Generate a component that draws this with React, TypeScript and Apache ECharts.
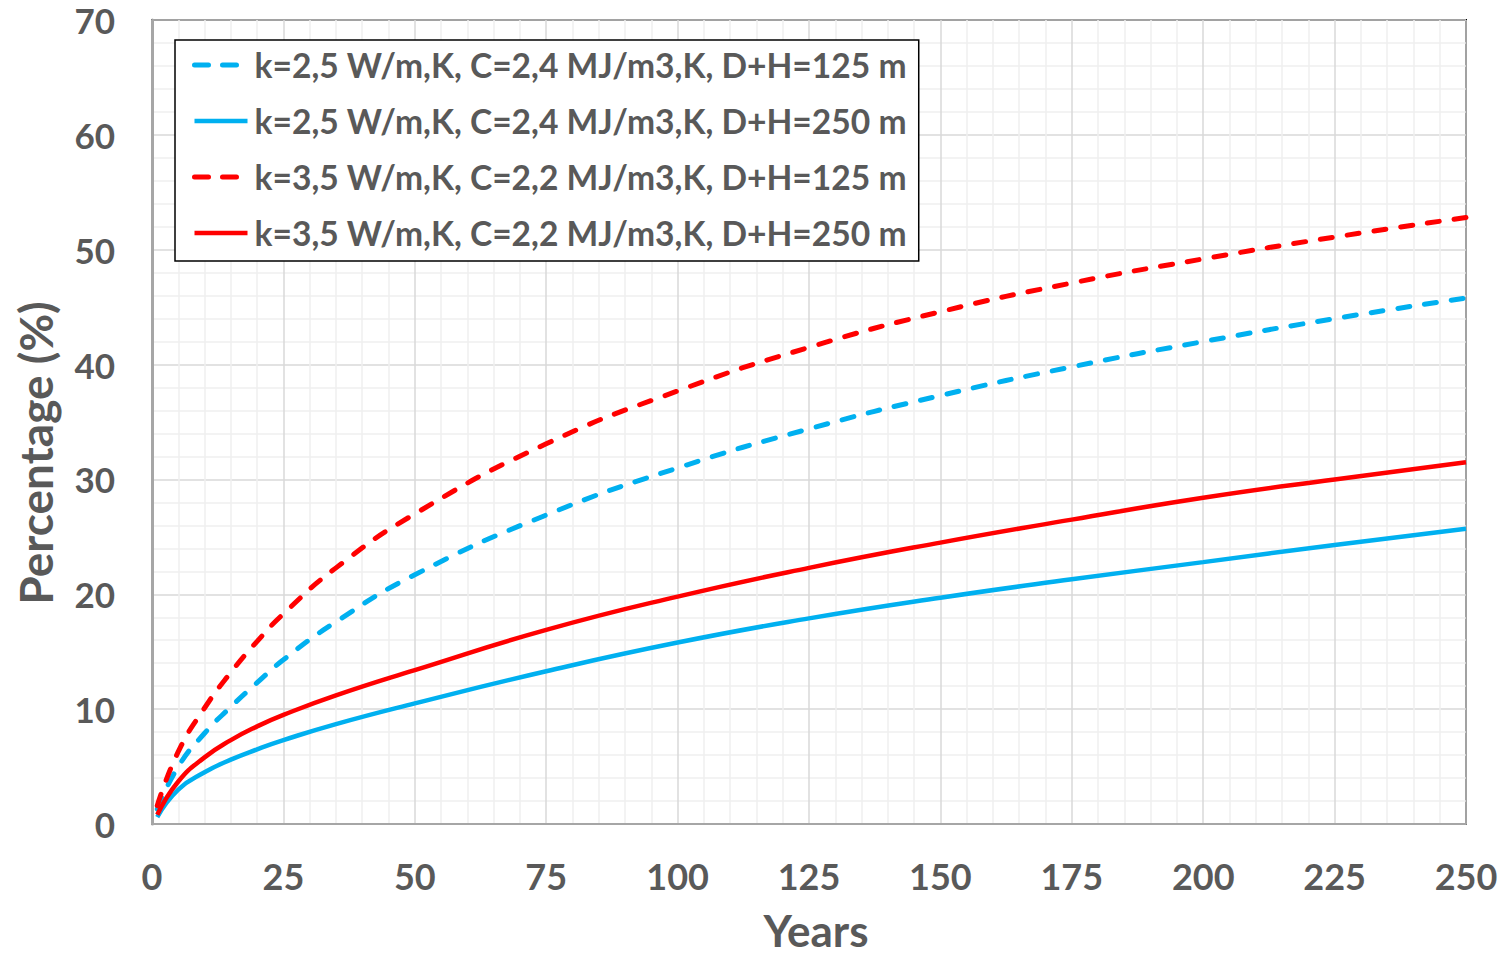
import React, { useEffect, useRef } from "react";
import * as echarts from "echarts";

const years = [1, 5, 10, 15, 20, 25, 35, 50, 75, 100, 125, 150, 175, 200, 225, 250];
const blueDashed = [1.3, 5.0, 7.9, 10.2, 12.3, 14.3, 17.6, 21.7, 26.9, 31.0, 34.4, 37.3, 39.8, 42.0, 44.0, 45.8];
const blueSolid = [0.6, 3.0, 4.5, 5.6, 6.5, 7.3, 8.7, 10.5, 13.3, 15.8, 17.9, 19.7, 21.3, 22.8, 24.3, 25.7];
const redDashed = [1.6, 6.3, 10.1, 13.2, 15.9, 18.3, 22.3, 27.0, 33.1, 37.7, 41.5, 44.6, 47.1, 49.2, 51.1, 52.8];
const redSolid = [0.8, 3.7, 5.8, 7.3, 8.5, 9.5, 11.2, 13.4, 16.9, 19.8, 22.3, 24.5, 26.5, 28.4, 30.0, 31.5];

const seriesNames = [
  "k=2,5 W/m,K, C=2,4 MJ/m3,K, D+H=125 m",
  "k=2,5 W/m,K, C=2,4 MJ/m3,K, D+H=250 m",
  "k=3,5 W/m,K, C=2,2 MJ/m3,K, D+H=125 m",
  "k=3,5 W/m,K, C=2,2 MJ/m3,K, D+H=250 m",
];
const xAxisName = "Years";
const yAxisName = "Percentage (%)";

const BLUE = "#00B0F0";
const RED = "#FF0000";
const TEXT = "#595959";
const FONT = "Lato, 'Open Sans', sans-serif";

function pairs(ys: number[]) {
  return years.map((x, i) => [x, ys[i]]);
}

export default function App() {
  const ref = useRef<HTMLDivElement>(null);
  useEffect(() => {
    if (!ref.current) return;
    const chart = echarts.init(ref.current, undefined, { renderer: "svg" });
    const dashStyle = (color: string) => ({ color, width: 5, type: [12, 15], cap: "round" });
    const solidStyle = (color: string) => ({ color, width: 4.5 });
    const mk = (name: string, data: number[], color: string, dashed: boolean) => ({
      name,
      type: "line",
      data: pairs(data),
      smooth: 0.5,
      symbol: "none",
      showSymbol: false,
      color,
      itemStyle: { color },
      lineStyle: dashed ? dashStyle(color) : solidStyle(color),
      z: 3,
    });
    const legendItem = (name: string, color: string, dashed: boolean) => ({
      name,
      itemStyle: { opacity: 0 },
      lineStyle: dashed
        ? { color, width: 5, type: [14, 14], cap: "round" }
        : { color, width: 4.5, type: "solid" },
    });
    chart.setOption({
      animation: false,
      backgroundColor: "#fff",
      textStyle: { fontFamily: FONT },
      grid: {
        left: 152,
        right: 43,
        top: 20,
        bottom: 132,
        show: true,
        borderColor: "#000",
        borderWidth: 2,
        backgroundColor: "transparent",
      },
      legend: {
        orient: "vertical",
        left: 175,
        top: 40,
        padding: [8, 12, 11, 17],
        itemGap: 22,
        itemWidth: 53,
        itemHeight: 20,
        borderColor: "#000",
        borderWidth: 1.5,
        backgroundColor: "#fff",
        itemStyle: { opacity: 0 },
        textStyle: { color: TEXT, fontSize: 33.6, fontWeight: "bold", fontFamily: FONT, padding: [0, 0, 0, 2] },
        data: [
          legendItem(seriesNames[0], BLUE, true),
          legendItem(seriesNames[1], BLUE, false),
          legendItem(seriesNames[2], RED, true),
          legendItem(seriesNames[3], RED, false),
        ],
      },
      graphic: [
        {
          type: "text",
          x: 35,
          y: 453,
          rotation: Math.PI / 2,
          style: {
            text: yAxisName,
            fill: TEXT,
            font: `bold 46px ${FONT}`,
            align: "center",
            verticalAlign: "middle",
          },
        },
        {
          type: "text",
          x: 816,
          y: 930,
          style: {
            text: xAxisName,
            fill: TEXT,
            font: `bold 44px ${FONT}`,
            lineHeight: 44,
            align: "center",
            verticalAlign: "middle",
          },
        },
      ],
      xAxis: {
        type: "value",
        min: 0,
        max: 250,
        interval: 25,
        axisLine: { show: true, onZero: false, lineStyle: { color: "#A6A6A6", width: 2 } },
        axisTick: { show: false },
        axisLabel: { color: TEXT, fontSize: 36, lineHeight: 36, fontWeight: "bold", fontFamily: FONT, margin: 34 },
        splitLine: { show: true, lineStyle: { color: "#D9D9D9", width: 1.5 } },
        minorTick: { show: false, splitNumber: 5 },
        minorSplitLine: { show: true, lineStyle: { color: "#EFEFEF", width: 1.5 } },
      },
      yAxis: {
        type: "value",
        min: 0,
        max: 70,
        interval: 10,
        axisLine: { show: true, lineStyle: { color: "#A6A6A6", width: 3 } },
        axisTick: { show: false },
        axisLabel: { color: TEXT, fontSize: 35, fontWeight: "bold", fontFamily: FONT, margin: 37 },
        splitLine: { show: true, lineStyle: { color: "#D9D9D9", width: 1.5 } },
        minorTick: { show: false, splitNumber: 5 },
        minorSplitLine: { show: true, lineStyle: { color: "#EFEFEF", width: 1.5 } },
      },
      series: [
        mk(seriesNames[0], blueDashed, BLUE, true),
        mk(seriesNames[1], blueSolid, BLUE, false),
        mk(seriesNames[2], redDashed, RED, true),
        mk(seriesNames[3], redSolid, RED, false),
      ],
    });
    return () => chart.dispose();
  }, []);
  return (
    <div
      ref={ref}
      style={{ position: "fixed", left: 0, top: 0, width: 1509, height: 956, background: "#fff" }}
    />
  );
}
